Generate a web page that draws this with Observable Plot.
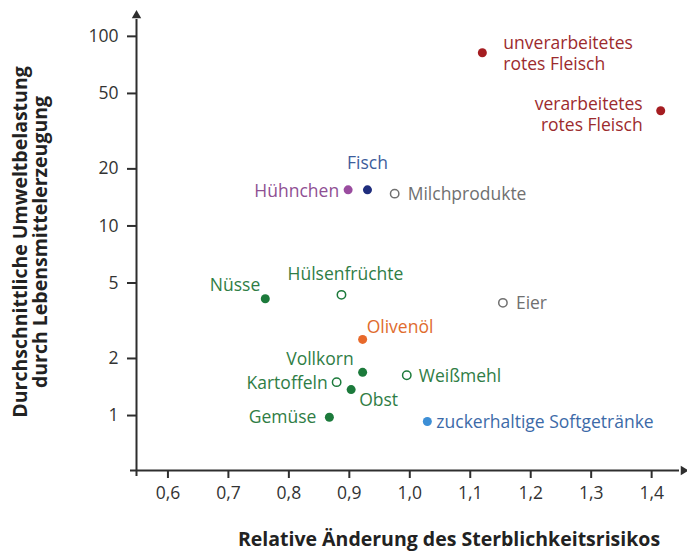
<!DOCTYPE html>
<html><head><meta charset="utf-8">
<script src="https://cdn.jsdelivr.net/npm/d3@7"></script>
<script src="https://cdn.jsdelivr.net/npm/@observablehq/plot@0.6"></script>
<style>body{margin:0;background:#fff}</style>
</head><body><div id="chart"></div>
<script>
// ---- data ----
const foods = ["unverarbeitetes\nrotes Fleisch","verarbeitetes\nrotes Fleisch","Fisch","Hühnchen","Milchprodukte","Nüsse","Hülsenfrüchte","Eier","Olivenöl","Vollkorn","Weißmehl","Kartoffeln","Obst","Gemüse","zuckerhaltige Softgetränke"];
const risk   = [1.12, 1.415, 0.93, 0.898, 0.975, 0.761, 0.887, 1.154, 0.922, 0.922, 0.995, 0.879, 0.903, 0.867, 1.029];
const impact = [82, 40.5, 15.5, 15.5, 14.8, 4.13, 4.33, 3.93, 2.52, 1.69, 1.63, 1.5, 1.37, 0.98, 0.93];
const groups = ["meat","meat","fish","poultry","gray","plant","plant","gray","oil","plant","plant","plant","plant","plant","drink"];
const filled = [true,true,true,true,false,true,false,false,true,true,false,false,true,true,true];
const xTicks = [0.6,0.7,0.8,0.9,1.0,1.1,1.2,1.3,1.4];
const yTicks = [1,2,5,10,20,50,100];
const xDomain = [0.548, 1.456];
const yDomain = [0.513, 132];
const xTitle = "Relative Änderung des Sterblichkeitsrisikos";
const yTitle = "Durchschnittliche Umweltbelastung\ndurch Lebensmittelerzeugung";

// ---- styles ----
const dotColor = {meat:"#a51d21", fish:"#1f2d7d", poultry:"#9a4c9f", gray:"#707070", plant:"#1c7a3b", oil:"#e8692a", drink:"#3d8fd6"};
const textColor = {meat:"#9c2b2e", fish:"#3d5d9c", poultry:"#8f4f93", gray:"#707070", plant:"#2f7d45", oil:"#e06b2d", drink:"#3c6aa8"};
const labelPos = {
  "unverarbeitetes\nrotes Fleisch": ["start", 21, 0],
  "verarbeitetes\nrotes Fleisch": ["end", -18, 3],
  "Fisch": ["middle", 0, -28],
  "Hühnchen": ["end", -9, 0],
  "Milchprodukte": ["start", 13, 0],
  "Nüsse": ["end", -5, -14],
  "Hülsenfrüchte": ["middle", 4, -22],
  "Eier": ["start", 13, -1],
  "Olivenöl": ["start", 4, -13],
  "Vollkorn": ["end", -9, -14],
  "Weißmehl": ["start", 12, 0],
  "Kartoffeln": ["end", -9, 0],
  "Obst": ["start", 8, 10],
  "Gemüse": ["end", -13, -1],
  "zuckerhaltige Softgetränke": ["start", 9, 0]
};

const data = foods.map((f, i) => ({food: f, x: risk[i], y: impact[i], g: groups[i], filled: filled[i]}));
const FONT = "'Open Sans', sans-serif";

const labelMarks = data.map(d => {
  const [anchor, dx, dy] = labelPos[d.food];
  return Plot.text([d], {x: "x", y: "y", text: "food", textAnchor: anchor, dx, dy,
    fill: textColor[d.g], fontSize: 17.5, lineHeight: 1.2, lineAnchor: "middle"});
});

const axisColor = "#2e2e2e";
const chart = Plot.plot({
  width: 687, height: 554,
  marginLeft: 136, marginRight: 2, marginTop: 13, marginBottom: 84,
  style: {fontFamily: FONT, background: "#fff"},
  x: {domain: xDomain},
  y: {type: "log", domain: yDomain},
  color: {type: "identity"},
  marks: [
    Plot.axisX(xTicks, {tickSize: 8, tickPadding: 8, stroke: axisColor, strokeWidth: 2, fill: "#333", fontSize: 17.5,
      tickFormat: d => d.toFixed(1).replace(".", ","), label: null}),
    Plot.axisY(yTicks, {tickSize: 9, tickPadding: 9, stroke: axisColor, strokeWidth: 2, fill: "#333", fontSize: 17.5,
      tickFormat: d => String(d), label: null}),
    Plot.ruleY([yDomain[0]], {x1: xDomain[0], x2: xDomain[1], stroke: axisColor, strokeWidth: 2, dx: -6}),
    Plot.ruleX([xDomain[0]], {y1: yDomain[0], y2: yDomain[1], stroke: axisColor, strokeWidth: 2, dy: 6}),
    Plot.dot([{x: xDomain[1], y: yDomain[0]}], {x: "x", y: "y", symbol: "triangle", r: 3.5, fill: axisColor, rotate: 90, dx: -2}),
    Plot.dot([{x: xDomain[0], y: yDomain[1]}], {x: "x", y: "y", symbol: "triangle", r: 3.5, fill: axisColor, dy: 2}),
    Plot.dot(data.filter(d => d.filled), {x: "x", y: "y", r: 4.5, fill: d => dotColor[d.g], stroke: "none"}),
    Plot.dot(data.filter(d => !d.filled), {x: "x", y: "y", r: 4.2, fill: "white", stroke: d => dotColor[d.g], strokeWidth: 1.5}),
    ...labelMarks,
    Plot.text([xTitle], {frameAnchor: "bottom", dx: 38, dy: 75, text: d => d, fontSize: 19.5, fontWeight: "bold", fill: "#222"}),
    Plot.text([yTitle], {frameAnchor: "left", textAnchor: "middle", dx: -106, dy: 0, text: d => d, rotate: -90, fontSize: 19.5, fontWeight: "bold", fill: "#222", lineHeight: 1.05, lineAnchor: "middle"})
  ]
});
document.getElementById("chart").append(chart);
</script>
</body></html>
